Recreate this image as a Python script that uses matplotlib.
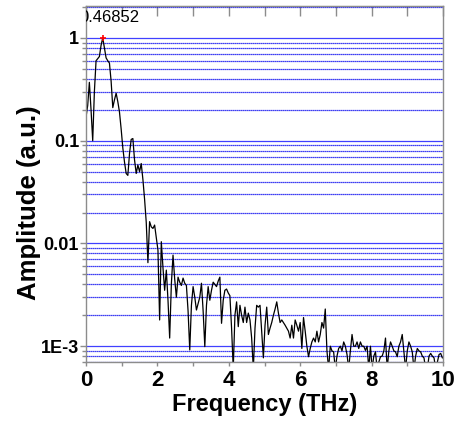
import numpy as np
import matplotlib
matplotlib.use("Agg")
import matplotlib.pyplot as plt
from matplotlib.ticker import FixedLocator, FixedFormatter, LogLocator, NullFormatter

# spectrum bins (THz spacing from the peak position)
df = 0.046852
amp = [
    0.17, 0.22, 0.37, 0.20, 0.10, 0.30, 0.60, 0.63, 0.66, 0.85,
    1.00, 0.80, 0.64, 0.60, 0.57, 0.38, 0.21, 0.25, 0.29, 0.24,
    0.19, 0.13, 0.085, 0.062, 0.048, 0.046, 0.075, 0.103, 0.105, 0.065,
    0.048, 0.058, 0.050, 0.060, 0.042, 0.027, 0.016, 0.0065, 0.0163, 0.0145,
    0.014, 0.0151, 0.0115, 0.0086, 0.0018, 0.0104, 0.0058, 0.0035, 0.0055, 0.0028,
    0.0012, 0.0040, 0.0077, 0.0045, 0.0030, 0.0047, 0.0042, 0.0039, 0.0046, 0.0041,
    0.0039, 0.0022, 0.00092, 0.0025, 0.0038, 0.0030, 0.00225, 0.0026, 0.0030, 0.0041,
    0.0022, 0.00099, 0.0025, 0.0038, 0.0028, 0.0035, 0.0042, 0.0040, 0.0038, 0.0043,
    0.0047, 0.00167, 0.0028, 0.0035, 0.0036, 0.0033, 0.0031, 0.0015, 0.0006, 0.0020,
    0.0027, 0.00155, 0.0025, 0.0020, 0.0017, 0.0024, 0.0017, 0.0021, 0.0018, 0.0012,
    0.0006, 0.0015, 0.0025, 0.0024, 0.0025, 0.0014, 0.00077, 0.0016, 0.0024, 0.0013,
    0.0015, 0.0017, 0.0020, 0.0023, 0.0027, 0.0021, 0.0017, 0.0018, 0.0017, 0.0016,
    0.0015, 0.0014, 0.0012, 0.0016, 0.0012, 0.0018, 0.0016, 0.0014, 0.0017, 0.00095,
    0.0019, 0.0014, 0.0010, 0.00079, 0.00095, 0.0011, 0.0012, 0.0011, 0.0014, 0.0011,
    0.0013, 0.0017, 0.0015, 0.0023, 0.0009, 0.0006, 0.0010, 0.0009, 0.00088, 0.0006,
    0.0008, 0.00095, 0.0010, 0.0009, 0.0011, 0.0010, 0.00083, 0.0006, 0.0009, 0.0013,
    0.0010, 0.0010, 0.0011, 0.00095, 0.0011, 0.0010, 0.0010, 0.00091, 0.0010, 0.0006,
    0.0010, 0.0006, 0.0008, 0.00088, 0.0006, 0.0007, 0.00079, 0.0008, 0.0009, 0.0012,
    0.0006, 0.0009, 0.0011, 0.0010, 0.0009, 0.00088, 0.00079, 0.0010, 0.0011, 0.0013,
    0.00088, 0.0006, 0.0009, 0.0011, 0.0010, 0.00088, 0.0006, 0.0008, 0.00095, 0.0009,
    0.00088, 0.0008, 0.00077, 0.0006, 0.0006, 0.0008, 0.00085, 0.0008, 0.00077, 0.0006,
    0.0007, 0.00083, 0.00085, 0.00077,
]
freq = np.arange(len(amp)) * df

peak_f = 0.46852
peak_a = 1.0

ytick_vals = [1e-3, 1e-2, 1e-1, 1]
ytick_text = ["1E-3", "0.01", "0.1", "1"]
xtick_vals = [0, 2, 4, 6, 8, 10]

plt.rcParams["font.family"] = ["Liberation Sans", "DejaVu Sans"]

fig = plt.figure(figsize=(4.59, 4.25), dpi=100)
ax = fig.add_axes([0.1874, 0.148, 0.778, 0.838])

ax.set_yscale("log")
ax.set_xlim(0, 10)
ax.set_ylim(7.0e-4, 2.05)

# horizontal grid: solid on decades, dotted in between
ax.yaxis.grid(True, which="major", color="#4040ff", lw=0.9, ls="-")
ax.yaxis.grid(True, which="minor", color="#0000ee", lw=0.9, ls=(0, (1, 0.6)))
ax.xaxis.grid(False)
ax.set_axisbelow(True)

ax.plot(freq, amp, color="black", lw=0.9)
ax.plot([peak_f], [peak_a], marker="+", color="red", ms=5, mew=1.2)
ax.annotate("%.5f" % peak_f, xy=(peak_f, peak_a), xytext=(5, 15),
            textcoords="offset points", ha="center", va="center",
            fontsize=12, annotation_clip=False, clip_on=True)

ax.yaxis.set_major_locator(FixedLocator(ytick_vals))
ax.yaxis.set_major_formatter(FixedFormatter(ytick_text))
ax.yaxis.set_minor_locator(LogLocator(base=10, subs=np.arange(2, 10)))
ax.yaxis.set_minor_formatter(NullFormatter())

ax.xaxis.set_major_locator(FixedLocator(xtick_vals))
ax.xaxis.set_minor_locator(FixedLocator([1, 3, 5, 7, 9]))

for s in ax.spines.values():
    s.set_color("#8c8c8c")
    s.set_linewidth(1.0)

ax.tick_params(axis="y", which="major", direction="out", length=4, width=1,
               color="#8c8c8c", labelsize=13, pad=1)
ax.tick_params(axis="y", which="minor", direction="out", length=3, width=1,
               color="#8c8c8c")
ax.tick_params(axis="x", which="both", direction="out", length=3, width=1,
               color="#8c8c8c", labelsize=16, pad=3)
for lab in ax.get_xticklabels() + ax.get_yticklabels():
    lab.set_fontweight("bold")

# top axis: inward ticks every 1 THz, no labels
top = ax.secondary_xaxis("top")
top.set_xticks(np.arange(0, 11, 1))
top.tick_params(direction="in", length=7, width=1, color="#8c8c8c",
                labeltop=False)
top.spines["top"].set_color("#8c8c8c")

ax.set_xlabel("Frequency (THz)", fontsize=17, fontweight="bold", labelpad=1)
ax.set_ylabel("Amplitude (a.u.)", fontsize=18.5, fontweight="bold")
ax.yaxis.set_label_coords(-0.125, 0.449)

fig.savefig("out.png", dpi=100)
